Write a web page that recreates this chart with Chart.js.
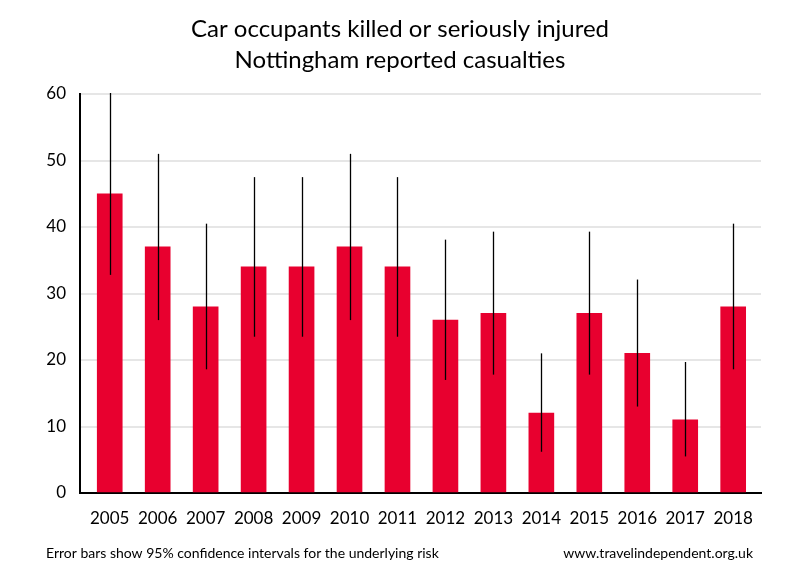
<!DOCTYPE html>
<html>
<head>
<meta charset="utf-8">
<script src="https://cdn.jsdelivr.net/npm/chart.js@4"></script>
<style>
  html, body { margin: 0; padding: 0; background: #fff; }
  #wrap { position: relative; width: 800px; height: 580px; }
</style>
</head>
<body>
<div id="wrap"><canvas id="c" width="800" height="580"></canvas></div>
<script>
const years = ['2005','2006','2007','2008','2009','2010','2011','2012','2013','2014','2015','2016','2017','2018'];
const casualties = [45, 37, 28, 34, 34, 37, 34, 26, 27, 12, 27, 21, 11, 28];
const ciLower = [32.8, 26.0, 18.6, 23.5, 23.5, 26.0, 23.5, 17.0, 17.8, 6.2, 17.8, 13.0, 5.5, 18.6];
const ciUpper = [60.2, 51.0, 40.5, 47.5, 47.5, 51.0, 47.5, 38.1, 39.3, 21.0, 39.3, 32.1, 19.7, 40.5];
const titleLines = ['Car occupants killed or seriously injured', 'Nottingham reported casualties'];
const footLeft = 'Error bars show 95% confidence intervals for the underlying risk';
const footRight = 'www.travelindependent.org.uk';
const yTicks = [0, 10, 20, 30, 40, 50, 60];

const FONT = 'Lato, "Open Sans", sans-serif';

const errorBars = {
  id: 'errorBars',
  afterDatasetsDraw(chart) {
    const ctx = chart.ctx, xs = chart.scales.x, ys = chart.scales.y, a = chart.chartArea;
    ctx.save();
    ctx.beginPath();
    ctx.rect(a.left, a.top - 1, a.right - a.left, a.bottom - a.top + 1);
    ctx.clip();
    ctx.strokeStyle = '#000';
    ctx.lineWidth = 1.3;
    casualties.forEach((v, i) => {
      const x = Math.round(xs.getPixelForValue(i)) + 0.5;
      ctx.beginPath();
      ctx.moveTo(x, ys.getPixelForValue(ciUpper[i]));
      ctx.lineTo(x, ys.getPixelForValue(ciLower[i]));
      ctx.stroke();
    });
    ctx.restore();
  }
};

const texts = {
  id: 'texts',
  afterDraw(chart) {
    const ctx = chart.ctx;
    ctx.save();
    ctx.fillStyle = '#000';
    ctx.textBaseline = 'alphabetic';
    ctx.textAlign = 'center';
    ctx.font = '24px ' + FONT;
    ctx.fillText(titleLines[0], 400, 37);
    ctx.fillText(titleLines[1], 400, 68);
    ctx.font = '14px ' + FONT;
    ctx.textAlign = 'left';
    ctx.fillText(footLeft, 46, 558);
    ctx.textAlign = 'right';
    ctx.fillText(footRight, 753, 558);
    ctx.restore();
  }
};

new Chart(document.getElementById('c'), {
  type: 'bar',
  data: {
    datasets: [{
      data: casualties.map((v, i) => ({ x: i, y: v })),
      backgroundColor: '#e8002f',
      borderWidth: 0,
      barThickness: 25
    }]
  },
  options: {
    responsive: false,
    animation: false,
    events: [],
    layout: { padding: { top: 94, left: 0, right: 39, bottom: 0 } },
    plugins: { legend: { display: false }, tooltip: { enabled: false }, title: { display: false } },
    scales: {
      x: {
        type: 'linear',
        offset: false,
        min: -0.62,
        max: 13.58,
        afterBuildTicks: s => { s.ticks = years.map((y, i) => ({ value: i })); },
        afterFit: s => { s.height = 87; },
        grid: { display: false, drawTicks: false, offset: false },
        border: { color: '#000', width: 2 },
        ticks: {
          callback: v => years[v],
          color: '#000',
          font: { family: FONT, size: 17 },
          padding: 15,
          maxRotation: 0,
          autoSkip: false
        }
      },
      y: {
        min: 0,
        max: 60,
        afterBuildTicks: s => { s.ticks = yTicks.map(v => ({ value: v })); },
        afterFit: s => { s.width = 80; },
        grid: { color: '#e6e6e6', lineWidth: 2, drawTicks: false },
        border: { color: '#000', width: 2 },
        ticks: {
          color: '#000',
          font: { family: FONT, size: 17 },
          padding: 14
        }
      }
    }
  },
  plugins: [errorBars, texts]
});
</script>
</body>
</html>
